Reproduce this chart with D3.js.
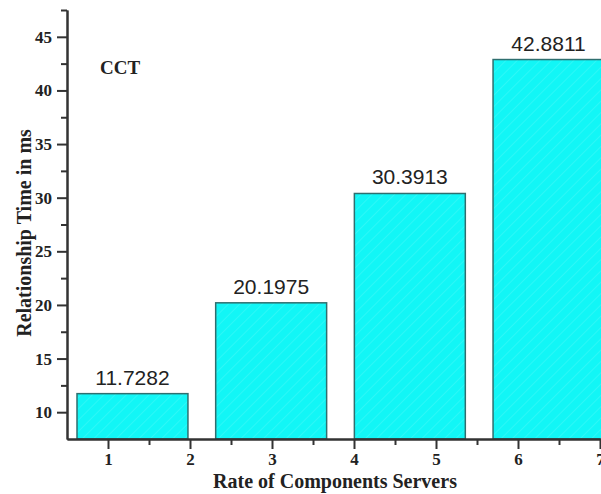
<!DOCTYPE html>
<html>
<head>
<meta charset="utf-8">
<script src="https://cdn.jsdelivr.net/npm/d3@7"></script>
<style>
  body { margin: 0; background: #fff; }
  svg { display: block; }
  .axis path, .axis line { stroke: #333; stroke-width: 2; }
  .axis text { font-family: "Liberation Serif", "Times New Roman", serif; font-weight: bold; font-size: 17px; fill: #222; }
</style>
</head>
<body>
<svg width="601" height="494"></svg>
<script>
/*
 * Chart data
 */
var categories = ["A", "B", "C", "D"];
var values = [11.7282, 20.1975, 30.3913, 42.8811];
var labels = ["11.7282", "20.1975", "30.3913", "42.8811"];
var yTicks = [10, 15, 20, 25, 30, 35, 40, 45];
var yMinor = [12.5, 17.5, 22.5, 27.5, 32.5, 37.5, 42.5, 47.5];
var xTicks = [1, 2, 3, 4, 5, 6, 7];
var xMinor = [1.5, 2.5, 3.5, 4.5, 5.5, 6.5];

var svg = d3.select("svg");

// axis scales (pixel frame)
var y = d3.scaleLinear().domain([7.5, 47.5]).range([439, 10]);
var x = d3.scaleLinear().domain([0.5, 7]).range([67, 600]);
// bars sit on their own band scale
var xb = d3.scaleBand().domain(categories).range([77, 604]).paddingInner(0.2).paddingOuter(0);

// hatch pattern for bars
var defs = svg.append("defs");
var pat = defs.append("pattern")
  .attr("id", "hatch")
  .attr("patternUnits", "userSpaceOnUse")
  .attr("width", 8).attr("height", 8)
  .attr("patternTransform", "rotate(45)");
pat.append("rect").attr("width", 8).attr("height", 8).attr("fill", "#12F6F6");
pat.append("line")
  .attr("x1", 0).attr("y1", 0).attr("x2", 0).attr("y2", 8)
  .attr("stroke", "#7ffafa").attr("stroke-width", 1).attr("stroke-opacity", 0.5);

// bars
svg.append("g")
  .selectAll("rect")
  .data(values)
  .enter().append("rect")
    .attr("x", function(d, i) { return xb(categories[i]); })
    .attr("y", function(d) { return y(d); })
    .attr("width", xb.bandwidth())
    .attr("height", function(d) { return y(7.5) - y(d); })
    .attr("fill", "url(#hatch)")
    .attr("stroke", "#2f6f6f")
    .attr("stroke-width", 1.5);

// value labels
svg.append("g")
  .selectAll("text")
  .data(values)
  .enter().append("text")
    .attr("x", function(d, i) { return xb(categories[i]) + xb.bandwidth() / 2; })
    .attr("y", function(d) { return y(d) - 9; })
    .attr("text-anchor", "middle")
    .attr("font-family", "Liberation Sans, Arial, sans-serif")
    .attr("font-size", 21)
    .attr("fill", "#222")
    .text(function(d, i) { return labels[i]; });

// y axis
svg.append("g")
  .attr("class", "axis")
  .attr("transform", "translate(67,0)")
  .call(d3.axisLeft(y).tickValues(yMinor).tickSize(6).tickSizeOuter(0).tickFormat(""));
svg.append("g")
  .attr("class", "axis")
  .attr("transform", "translate(67,0)")
  .call(d3.axisLeft(y).tickValues(yTicks).tickSize(10).tickSizeOuter(0).tickPadding(5).tickFormat(d3.format("d")));

// x axis
svg.append("g")
  .attr("class", "axis")
  .attr("transform", "translate(0,439)")
  .call(d3.axisBottom(x).tickValues(xMinor).tickSize(6).tickSizeOuter(0).tickFormat(""));
svg.append("g")
  .attr("class", "axis")
  .attr("transform", "translate(0,439)")
  .call(d3.axisBottom(x).tickValues(xTicks).tickSize(10).tickSizeOuter(0).tickPadding(4).tickFormat(d3.format("d")));

// titles
svg.append("text")
  .attr("x", 335).attr("y", 488)
  .attr("text-anchor", "middle")
  .attr("font-family", "Liberation Serif, Times New Roman, serif")
  .attr("font-weight", "bold")
  .attr("font-size", 20)
  .attr("fill", "#222")
  .text("Rate of Components Servers");

svg.append("text")
  .attr("transform", "translate(31,233) rotate(-90)")
  .attr("text-anchor", "middle")
  .attr("font-family", "Liberation Serif, Times New Roman, serif")
  .attr("font-weight", "bold")
  .attr("font-size", 20)
  .attr("fill", "#222")
  .text("Relationship Time in ms");

svg.append("text")
  .attr("x", 100).attr("y", 74)
  .attr("font-family", "Liberation Serif, Times New Roman, serif")
  .attr("font-weight", "bold")
  .attr("font-size", 19)
  .attr("fill", "#222")
  .text("CCT");
</script>
</body>
</html>
